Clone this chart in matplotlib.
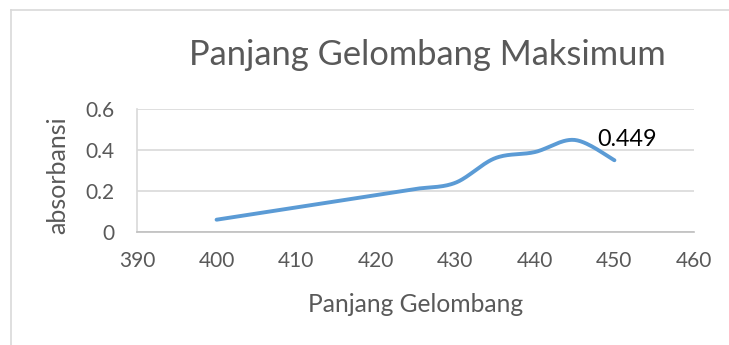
import numpy as np
import matplotlib
matplotlib.use("Agg")
import matplotlib.pyplot as plt
from matplotlib.lines import Line2D

# ---- data ----
wavelength = [400, 405, 410, 415, 420, 425, 430, 435, 440, 445, 450]
absorbance = [0.06, 0.09, 0.12, 0.15, 0.18, 0.21, 0.24, 0.36, 0.39, 0.449, 0.35]
x_ticks = [390, 400, 410, 420, 430, 440, 450, 460]
y_ticks = [0, 0.2, 0.4, 0.6]
y_tick_labels = ["0", "0.2", "0.4", "0.6"]
title = "Panjang Gelombang Maksimum"
x_label = "Panjang Gelombang"
y_label = "absorbansi"
peak_label = "0.449"


def smooth(xs, ys, n=30):
    """Catmull-Rom style Bezier smoothing (like Excel's smoothed line)."""
    xs = np.asarray(xs, float)
    ys = np.asarray(ys, float)
    px = np.concatenate([[xs[0]], xs, [xs[-1]]])
    py = np.concatenate([[ys[0]], ys, [ys[-1]]])
    outx, outy = [], []
    t = np.linspace(0, 1, n)
    for i in range(1, len(px) - 2):
        p0 = np.array([px[i], py[i]])
        p3 = np.array([px[i + 1], py[i + 1]])
        c1 = p0 + (np.array([px[i + 1], py[i + 1]]) - np.array([px[i - 1], py[i - 1]])) / 6
        c2 = p3 - (np.array([px[i + 2], py[i + 2]]) - np.array([px[i], py[i]])) / 6
        b = ((1 - t) ** 3)[:, None] * p0 + (3 * (1 - t) ** 2 * t)[:, None] * c1 \
            + (3 * (1 - t) * t ** 2)[:, None] * c2 + (t ** 3)[:, None] * p3
        outx.extend(b[:, 0])
        outy.extend(b[:, 1])
    return outx, outy


plt.rcParams["font.family"] = ["Lato", "DejaVu Sans"]
W, H = 729, 345
fig = plt.figure(figsize=(W / 100, H / 100), dpi=100)
fig.patch.set_facecolor("white")

left, right, top, bottom = 137, 694, 109, 232
ax = fig.add_axes([left / W, 1 - bottom / H, (right - left) / W, (bottom - top) / H])

text_color = "#595959"
sx, sy = smooth(wavelength, absorbance)
ax.plot(sx, sy, color="#5B9BD5", lw=2.8, solid_capstyle="round", zorder=3)

ax.set_xlim(390, 460)
ax.set_ylim(0, 0.6)
ax.set_xticks(x_ticks)
ax.set_yticks(y_ticks)
ax.set_yticklabels(y_tick_labels)
ax.tick_params(axis="both", length=0, labelsize=15, labelcolor=text_color)
ax.tick_params(axis="x", pad=14)
ax.tick_params(axis="y", pad=16)
ax.grid(axis="y", color="#D9D9D9", lw=1.2)
ax.set_axisbelow(True)
for s in ["top", "right"]:
    ax.spines[s].set_visible(False)
ax.spines["bottom"].set_color("#BFBFBF")
ax.spines["bottom"].set_linewidth(1.2)
ax.spines["left"].set_color("#D9D9D9")
ax.spines["left"].set_linewidth(1.2)

# peak data label
i_peak = int(np.argmax(absorbance))
ax.annotate(peak_label, (wavelength[i_peak], absorbance[i_peak]),
            xytext=(23, 0), textcoords="offset pixels", ha="left", va="center",
            fontsize=16.8, color="black", zorder=4)

fig.text(427 / W, 1 - 65 / H, title, ha="center", va="baseline",
         fontsize=24.8, color=text_color)
fig.text(416 / W, 1 - 312 / H, x_label, ha="center", va="baseline",
         fontsize=17.7, color=text_color)
fig.text(58 / W, 1 - 175 / H, y_label, ha="center", va="center", rotation=90,
         fontsize=18, color=text_color)

# chart border (light gray, clipped at right/bottom)
bx, by = 11.5 / W, 1 - 9.5 / H
fig.add_artist(Line2D([bx, bx], [0, by], transform=fig.transFigure, color="#D9D9D9", lw=1.2))
fig.add_artist(Line2D([bx, 1], [by, by], transform=fig.transFigure, color="#D9D9D9", lw=1.2))

fig.savefig("out.png", dpi=100)
